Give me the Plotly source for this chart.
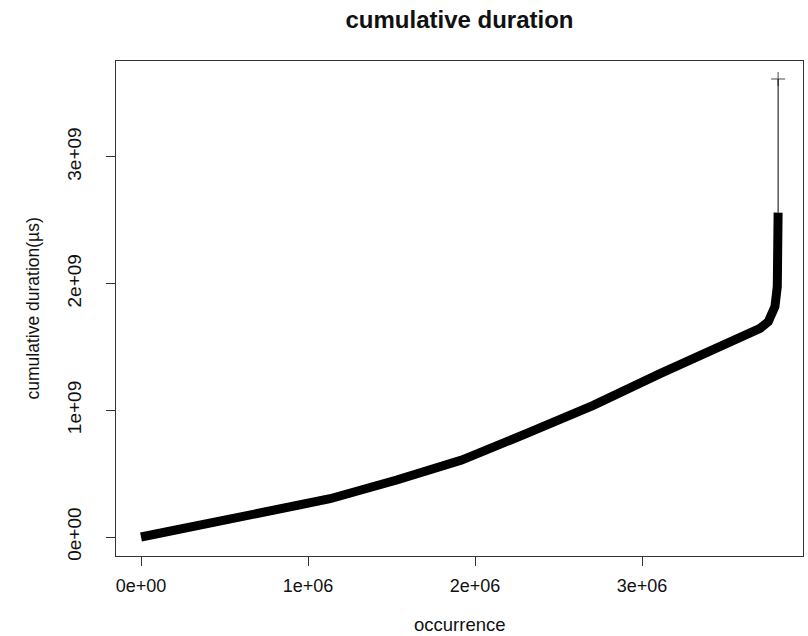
import plotly.graph_objects as go

# occurrence (count) and cumulative duration (µs)
occurrence = [0, 0.334e6, 0.732e6, 1.132e6, 1.531e6, 1.92e6, 2.31e6, 2.708e6, 3.108e6,
              3.507e6, 3.707e6, 3.756e6, 3.796e6, 3.81e6, 3.815e6, 3.815e6, 3.815e6]
cum_duration = [0, 0.087e9, 0.182e9, 0.302e9, 0.45e9, 0.607e9, 0.818e9, 1.039e9, 1.289e9,
                1.529e9, 1.647e9, 1.699e9, 1.818e9, 1.976e9, 2.2e9, 2.56e9, 3.615e9]

x_tickvals = [0, 1e6, 2e6, 3e6]
x_ticktext = ["0e+00", "1e+06", "2e+06", "3e+06"]
y_tickvals = [0, 1e9, 2e9, 3e9]
y_ticktext = ["0e+00", "1e+09", "2e+09", "3e+09"]

FONT = "Liberation Sans, Arial, Helvetica, sans-serif"

fig = go.Figure()
# dense body of points (drawn as a thick band)
fig.add_trace(go.Scatter(
    x=occurrence[:-1], y=cum_duration[:-1], mode="lines",
    line=dict(color="black", width=9), hoverinfo="skip", showlegend=False))
# last isolated point connected by a thin line
fig.add_trace(go.Scatter(
    x=occurrence[-2:], y=cum_duration[-2:], mode="lines+markers",
    line=dict(color="black", width=1),
    marker=dict(symbol="cross-thin", size=[0, 10],
                line=dict(color="black", width=1), color="black"),
    showlegend=False))

axis_common = dict(showline=True, linecolor="#333", linewidth=1, mirror=True,
                   ticks="outside", ticklen=9, tickcolor="#333", tickwidth=1,
                   showgrid=False, zeroline=False)

fig.update_xaxes(range=[-0.1497e6, 3.964e6], tickvals=x_tickvals, ticktext=x_ticktext,
                 ticklabelstandoff=4, tickfont=dict(family=FONT, size=18, color="#111"),
                 **axis_common)
fig.update_yaxes(range=[-0.15e9, 3.757e9], tickvals=y_tickvals, ticktext=y_ticktext,
                 tickangle=-90, ticklabelstandoff=17,
                 tickfont=dict(family=FONT, size=19, color="#111"), **axis_common)

fig.update_layout(
    width=808, height=636,
    margin=dict(l=116, r=5, t=61, b=80, autoexpand=False),
    paper_bgcolor="white", plot_bgcolor="white",
    title=dict(text="<b>cumulative duration</b>", x=0.5, xref="paper",
               y=1 - 20 / 636, yref="container", yanchor="middle", xanchor="center",
               font=dict(family=FONT, size=24, color="#111")),
    annotations=[
        dict(text="occurrence", xref="paper", yref="paper", x=0.5, y=-68 / 495,
             xanchor="center", yanchor="middle", showarrow=False,
             font=dict(family=FONT, size=18.5, color="#111")),
        dict(text="cumulative duration(µs)", xref="paper", yref="paper",
             x=(32 - 116) / 687, y=0.5, xanchor="center", yanchor="middle",
             textangle=-90, showarrow=False,
             font=dict(family=FONT, size=17.5, color="#111")),
    ],
)

fig.write_html("out.html",
               config={"displayModeBar": False},
               post_script="document.body.style.margin='0px';"
                           "document.body.style.overflow='hidden';")
